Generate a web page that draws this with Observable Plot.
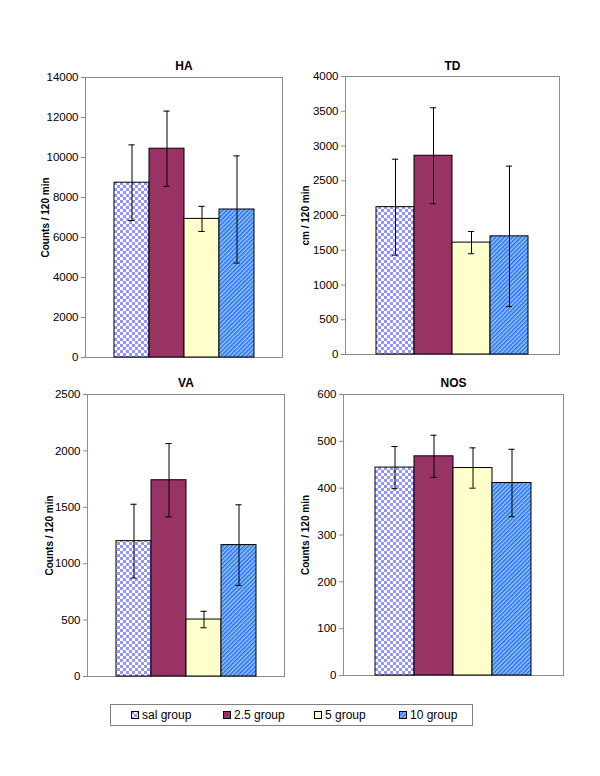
<!DOCTYPE html>
<html>
<head>
<meta charset="utf-8">
<script src="https://cdn.jsdelivr.net/npm/d3@7"></script>
<script src="https://cdn.jsdelivr.net/npm/@observablehq/plot@0.6"></script>
<style>
  html, body { margin: 0; padding: 0; background: #fff; }
  body { font-family: "Liberation Sans", Arial, sans-serif; }
  #page { position: relative; width: 600px; height: 776px; overflow: hidden; background: #fff; }
  .panel { position: absolute; }
  .panel svg { overflow: visible; }
  #legend { position: absolute; left: 110px; top: 704px; width: 361px; height: 20px; border: 1px solid #808080; box-sizing: content-box; }
  .item { position: absolute; top: 0; height: 20px; display: flex; align-items: center; font-size: 12px; color: #000; white-space: nowrap; }
  .item svg { margin-right: 3px; }
</style>
</head>
<body>
<svg width="0" height="0" style="position:absolute">
  <defs>
    <pattern id="checker" patternUnits="userSpaceOnUse" width="6" height="6">
      <rect width="6" height="6" fill="#ffffff"></rect>
      <rect x="0" y="0" width="3" height="3" fill="#9494ff"></rect>
      <rect x="3" y="3" width="3" height="3" fill="#9494ff"></rect>
    </pattern>
    <pattern id="stripes" patternUnits="userSpaceOnUse" width="3" height="3" patternTransform="rotate(45)">
      <rect width="3" height="3" fill="#93c8ff"></rect>
      <rect x="0" y="0" width="1.5" height="3" fill="#2a6df0"></rect>
    </pattern>
  </defs>
</svg>
<div id="page"></div>
<script>
// ---- data ----
const groups = ["sal group", "2.5 group", "5 group", "10 group"];

const haMean = [8740, 10440, 6930, 7400];
const haSD   = [1890, 1880, 630, 2680];
const haTicks = [0, 2000, 4000, 6000, 8000, 10000, 12000, 14000];

const tdMean = [2120, 2860, 1610, 1700];
const tdSD   = [690, 690, 160, 1010];
const tdTicks = [0, 500, 1000, 1500, 2000, 2500, 3000, 3500, 4000];

const vaMean = [1200, 1740, 505, 1165];
const vaSD   = [327, 325, 73, 357];
const vaTicks = [0, 500, 1000, 1500, 2000, 2500];

const nosMean = [444, 468, 443, 411];
const nosSD   = [45, 45, 43, 72];
const nosTicks = [0, 100, 200, 300, 400, 500, 600];

const fills = ["url(#checker)", "#993366", "#ffffcc", "url(#stripes)"];

// ---- panels ----
const panels = [
  {title: "HA", ylabel: "Counts / 120 min", mean: haMean, sd: haSD, ticks: haTicks,
   left: 0, top: 50, width: 292, height: 317, mL: 85, mT: 27, mR: 10, mB: 10, labelDx: -40, titleDy: -11},
  {title: "TD", ylabel: "cm / 120 min", mean: tdMean, sd: tdSD, ticks: tdTicks,
   left: 300, top: 50, width: 269, height: 314, mL: 45, mT: 26, mR: 10, mB: 10, labelDx: -40, titleDy: -10},
  {title: "VA", ylabel: "Counts / 120 min", mean: vaMean, sd: vaSD, ticks: vaTicks,
   left: 0, top: 365, width: 294, height: 321, mL: 87, mT: 29, mR: 10, mB: 10, labelDx: -38, titleDy: -11},
  {title: "NOS", ylabel: "Counts / 120 min", mean: nosMean, sd: nosSD, ticks: nosTicks,
   left: 300, top: 365, width: 273, height: 320, mL: 43, mT: 29, mR: 10, mB: 10, labelDx: -38, titleDy: -11}
];

const page = document.getElementById("page");
const padOuter = 0.76;

for (const p of panels) {
  const data = groups.map((g, i) => ({group: g, m: p.mean[i], sd: p.sd[i]}));
  const W = p.width - p.mL - p.mR;
  const bw = W / (groups.length + 2 * padOuter);
  const capInset = Math.max(0, (bw - 7) / 2);
  const chart = Plot.plot({
    width: p.width,
    height: p.height,
    marginLeft: p.mL,
    marginTop: p.mT,
    marginRight: p.mR,
    marginBottom: p.mB,
    style: {fontFamily: '"Liberation Sans", Arial, sans-serif', background: "transparent", overflow: "visible"},
    x: {domain: groups, paddingInner: 0, paddingOuter: padOuter, axis: null},
    y: {domain: [0, p.ticks[p.ticks.length - 1]], axis: null},
    color: {domain: groups, range: fills},
    marks: [
      Plot.frame({stroke: "#8c8c8c", strokeWidth: 1}),
      Plot.axisY({ticks: p.ticks, tickFormat: d => String(d), tickSize: 4, tickPadding: 3,
                  stroke: "#8c8c8c", fill: "#000", fontSize: 11.5, label: null}),
      Plot.barY(data, {x: "group", y: "m", fill: "group", stroke: "#000", strokeWidth: 1}),
      Plot.ruleX(data, {x: "group", y1: d => d.m - d.sd, y2: d => d.m + d.sd, stroke: "#000", strokeWidth: 1}),
      Plot.tickY(data, {x: "group", y: d => d.m + d.sd, insetLeft: capInset, insetRight: capInset, stroke: "#000", strokeWidth: 1}),
      Plot.tickY(data, {x: "group", y: d => d.m - d.sd, insetLeft: capInset, insetRight: capInset, stroke: "#000", strokeWidth: 1}),
      Plot.text([p.title], {text: d => d, frameAnchor: "top", dy: p.titleDy, textAnchor: "middle", lineAnchor: "middle",
                            fontWeight: "bold", fontSize: 12, fill: "#000"}),
      Plot.text([p.ylabel], {text: d => d, frameAnchor: "left", dx: p.labelDx, rotate: -90, textAnchor: "middle", lineAnchor: "middle",
                             fontWeight: "bold", fontSize: 10, fill: "#000"})
    ]
  });
  const div = document.createElement("div");
  div.className = "panel";
  div.style.left = p.left + "px";
  div.style.top = p.top + "px";
  div.appendChild(chart);
  page.appendChild(div);
}

// ---- legend ----
const legend = document.createElement("div");
legend.id = "legend";
const itemLeft = [20, 112, 203, 288];
groups.forEach((g, i) => {
  const it = document.createElement("div");
  it.className = "item";
  it.style.left = itemLeft[i] + "px";
  it.innerHTML = `<svg width="8" height="8"><rect x="0.5" y="0.5" width="7" height="7" fill="${fills[i]}" stroke="#000" stroke-width="1"></rect></svg><span>${g}</span>`;
  legend.appendChild(it);
});
page.appendChild(legend);
</script>
</body>
</html>
